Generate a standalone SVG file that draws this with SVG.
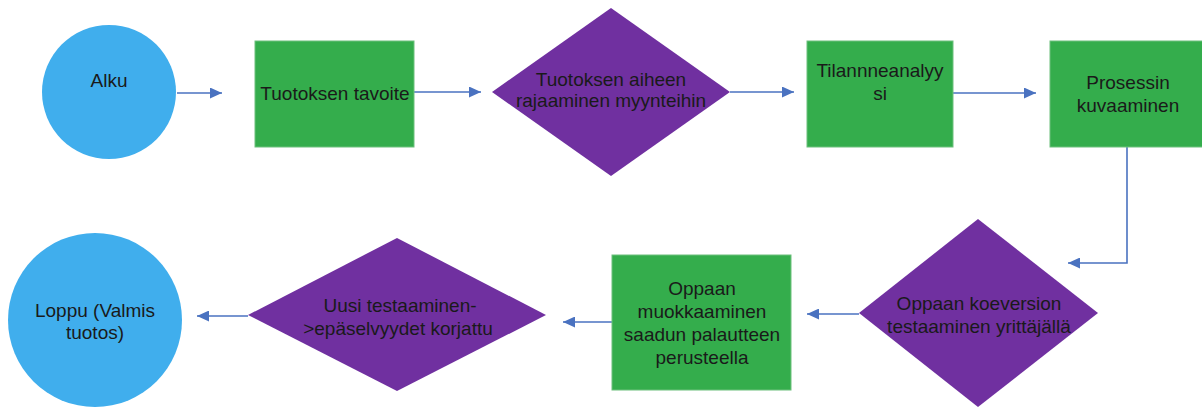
<svg xmlns="http://www.w3.org/2000/svg" width="1202" height="408" viewBox="0 0 1202 408">
<defs>
<style>
.circ{fill:#40aeed;}
.rect{fill:#34ad4c;stroke:#6cc07d;stroke-width:1;}
.dia{fill:#7030a0;}
.lbl{font-family:"Liberation Sans",Arial,sans-serif;font-size:19px;fill:#1a1a1a;text-anchor:middle;}
.con{fill:none;stroke:#4a72c0;stroke-width:1.6;}
</style>
<marker id="ah" viewBox="0 0 12 11" refX="12" refY="5.5" markerWidth="12" markerHeight="11" markerUnits="userSpaceOnUse" orient="auto">
<path d="M0,0 L12,5.5 L0,11 Z" fill="#4a72c0"/>
</marker>
</defs>
<rect width="1202" height="408" fill="#ffffff"/>
<g id="connectors">
<path class="con" d="M177,93 L222,93" marker-end="url(#ah)"/>
<path class="con" d="M414,92 L481,92" marker-end="url(#ah)"/>
<path class="con" d="M730,92 L794,92" marker-end="url(#ah)"/>
<path class="con" d="M953,93 L1036,93" marker-end="url(#ah)"/>
<path class="con" d="M1127,147 L1127,263 L1068,263" marker-end="url(#ah)"/>
<path class="con" d="M859,314 L807,314" marker-end="url(#ah)"/>
<path class="con" d="M612,322 L563,322" marker-end="url(#ah)"/>
<path class="con" d="M248,316 L197,316" marker-end="url(#ah)"/>
</g>
<g id="alku">
<circle class="circ" cx="109" cy="92" r="67"/>
<text class="lbl" x="109" y="87">Alku</text>
</g>
<g id="tavoite">
<rect class="rect" x="255" y="41" width="159" height="106"/>
<text class="lbl" x="335" y="100">Tuotoksen tavoite</text>
</g>
<g id="rajaaminen">
<polygon class="dia" points="611,8 730,92 611,176 492,92"/>
<text class="lbl" x="611" y="86">Tuotoksen aiheen</text>
<text class="lbl" x="611" y="107">rajaaminen myynteihin</text>
</g>
<g id="tilanneanalyysi">
<rect class="rect" x="807" y="41" width="146" height="106"/>
<text class="lbl" x="880" y="77">Tilannneanalyy</text>
<text class="lbl" x="880" y="100">si</text>
</g>
<g id="prosessin">
<rect class="rect" x="1050" y="41" width="156" height="106"/>
<text class="lbl" x="1128" y="89">Prosessin</text>
<text class="lbl" x="1128" y="112">kuvaaminen</text>
</g>
<g id="koeversion">
<polygon class="dia" points="978,219 1098,313 978,407 859,313"/>
<text class="lbl" x="979" y="310">Oppaan koeversion</text>
<text class="lbl" x="979" y="333">testaaminen yrittäjällä</text>
</g>
<g id="muokkaaminen">
<rect class="rect" x="612" y="255" width="179" height="135"/>
<text class="lbl" x="702" y="295">Oppaan</text>
<text class="lbl" x="702" y="318">muokkaaminen</text>
<text class="lbl" x="702" y="341">saadun palautteen</text>
<text class="lbl" x="702" y="364">perusteella</text>
</g>
<g id="uusi">
<polygon class="dia" points="397,238 546,315 397,391 248,315"/>
<text class="lbl" x="400" y="312">Uusi testaaminen-</text>
<text class="lbl" x="398" y="335">&gt;epäselvyydet korjattu</text>
</g>
<g id="loppu">
<circle class="circ" cx="95" cy="320" r="87"/>
<text class="lbl" x="95" y="317">Loppu (Valmis</text>
<text class="lbl" x="95" y="339">tuotos)</text>
</g>
</svg>
